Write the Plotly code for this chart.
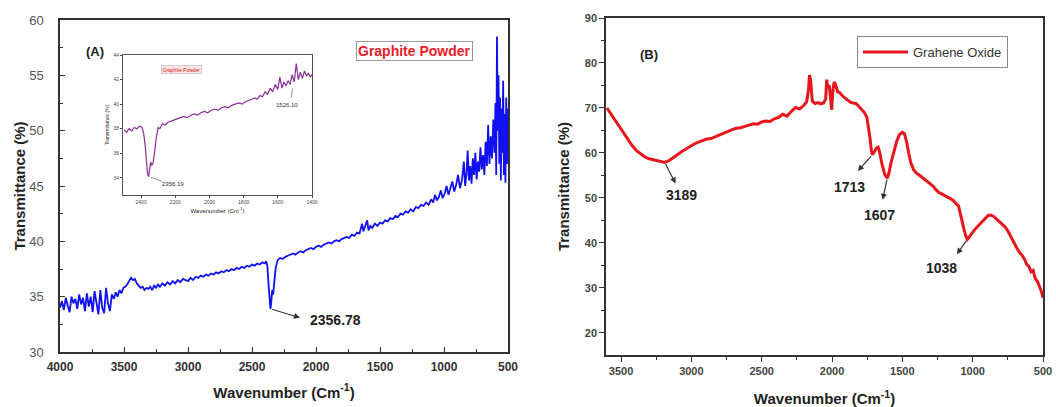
import plotly.graph_objects as go

# ---------------- Data ----------------
# (A) main: graphite powder
gp_wn = [4000, 3985, 3970, 3955, 3940, 3925, 3910, 3895, 3880, 3865, 3850, 3835, 3820, 3805, 3790, 3775,
         3760, 3745, 3730, 3715, 3700, 3685, 3670, 3655, 3640, 3625, 3610, 3595, 3580, 3565, 3550, 3535,
         3520, 3505, 3490, 3475, 3460, 3445, 3430, 3415, 3400, 3385, 3370, 3355, 3340, 3325, 3310, 3295,
         3280, 3265, 3250, 3235, 3220, 3200, 3180, 3160, 3140, 3120, 3100, 3080, 3060, 3040, 3020, 3000,
         2980, 2960, 2940, 2920, 2900, 2880, 2860, 2840, 2820, 2800, 2780, 2760, 2740, 2720, 2700, 2680,
         2660, 2640, 2620, 2600, 2580, 2560, 2540, 2520, 2500, 2480, 2460, 2440, 2420, 2400, 2390, 2380,
         2370, 2362, 2356, 2350, 2342, 2335, 2325, 2315, 2300, 2280, 2260, 2240, 2220, 2200, 2180, 2160,
         2140, 2120, 2100, 2080, 2060, 2040, 2020, 2000, 1980, 1960, 1940, 1920, 1900, 1880, 1860, 1840,
         1820, 1800, 1780, 1760, 1740, 1720, 1700, 1680, 1660, 1640, 1630, 1620, 1600, 1590, 1575, 1560,
         1540, 1520, 1500, 1480, 1460, 1440, 1420, 1400, 1380, 1360, 1340, 1320, 1300, 1280, 1260, 1240,
         1220, 1200, 1180, 1160, 1140, 1120, 1100, 1085, 1070, 1055, 1040, 1025, 1010, 995, 980, 965,
         950, 935, 920, 905, 890, 875, 860, 845, 835, 825, 815, 805, 795, 785, 775, 765,
         755, 745, 735, 725, 715, 705, 695, 685, 675, 665, 655, 645, 635, 625, 615, 605,
         598, 592, 586, 580, 574, 568, 562, 556, 550, 544, 538, 532, 526, 520, 514, 508,
         502, 500]
gp_t = [34.0, 34.6, 33.8, 34.9, 34.2, 33.6, 35.0, 34.4, 34.8, 33.9, 35.2, 34.3, 34.9, 33.7, 35.3, 34.1,
        35.0, 33.6, 35.5, 34.2, 33.4, 35.6, 34.0, 33.5, 35.8, 34.4, 33.7, 35.2, 34.8, 35.4, 35.0, 35.6,
        35.3, 35.8, 35.9, 36.1, 36.4, 36.7, 36.5, 36.6, 36.2, 36.0, 35.8, 35.9, 35.6, 35.8, 35.7, 35.9,
        35.6, 36.0, 35.8, 36.1, 35.9, 36.2, 36.0, 36.3, 36.1, 36.4, 36.2, 36.5, 36.3, 36.6, 36.5, 36.4,
        36.7, 36.5, 36.8, 36.7, 36.9, 36.8, 37.0, 36.9, 37.1, 37.0, 37.2, 37.1, 37.3, 37.2, 37.4, 37.3,
        37.5, 37.4, 37.6, 37.5, 37.7, 37.6, 37.8, 37.7, 37.9, 37.8, 38.0, 37.9, 38.1, 38.0, 38.2, 37.8,
        36.0, 34.5, 33.9, 34.4, 35.6, 35.2, 36.5, 37.6, 38.3, 38.5, 38.4, 38.6, 38.7, 38.8, 38.9, 38.8,
        39.0, 39.1, 39.0, 39.2, 39.3, 39.4, 39.3, 39.5, 39.6, 39.5, 39.7, 39.8, 39.9, 39.8, 40.0, 40.1,
        40.0, 40.2, 40.3, 40.4, 40.3, 40.6, 40.5, 40.8, 40.7, 41.6, 40.9, 41.3, 41.9, 41.0, 41.4, 41.2,
        41.6, 41.4, 41.7, 41.6, 41.9, 41.8, 42.1, 42.0, 42.3, 42.2, 42.5, 42.4, 42.7, 42.6, 42.9, 42.7,
        43.1, 43.0, 43.3, 43.2, 43.5, 43.3, 43.8, 43.5, 44.2, 43.7, 44.0, 44.6, 43.9, 44.3, 45.0, 44.2,
        44.7, 45.4, 44.5, 45.1, 46.0, 44.8, 45.5, 47.2, 45.0, 46.0, 48.2, 45.5, 46.8, 45.2, 47.5, 46.0,
        48.0, 45.6, 47.2, 46.3, 48.5, 46.5, 47.8, 46.0, 49.0, 46.8, 50.5, 47.0, 49.5, 47.5, 51.0, 48.0,
        52.5, 46.0, 58.5, 50.0, 55.0, 47.0, 53.0, 45.5, 52.0, 48.0, 54.5, 46.0, 51.5, 45.3, 53.0, 47.0,
        52.0, 49.5]

# (A) inset: graphite powder, 2500-1400 cm-1
in_wn = [2500, 2485, 2470, 2455, 2440, 2425, 2410, 2395, 2385, 2375, 2368, 2362, 2356, 2350, 2344, 2338,
         2330, 2322, 2312, 2300, 2290, 2275, 2260, 2245, 2230, 2210, 2190, 2170, 2150, 2130, 2110, 2090,
         2070, 2050, 2030, 2010, 1990, 1970, 1950, 1930, 1910, 1890, 1870, 1850, 1830, 1810, 1790, 1770,
         1750, 1735, 1720, 1705, 1690, 1675, 1660, 1645, 1630, 1615, 1600, 1588, 1576, 1564, 1552, 1540,
         1528, 1516, 1504, 1492, 1480, 1468, 1456, 1444, 1432, 1420, 1410, 1400]
in_t = [37.9, 37.7, 38.0, 37.8, 38.1, 38.0, 38.2, 38.1, 37.6, 36.5, 35.2, 34.3, 34.1, 34.6, 35.3, 35.0,
        35.2, 36.0, 37.2, 38.1, 38.0, 38.4, 38.3, 38.5, 38.6, 38.7, 38.8, 38.9, 39.0, 38.9, 39.1, 39.2,
        39.1, 39.3, 39.4, 39.3, 39.5, 39.6, 39.5, 39.7, 39.8, 39.7, 39.9, 40.0, 40.1, 40.0, 40.2, 40.3,
        40.4, 40.5, 40.4, 40.7, 40.6, 41.0, 40.8, 41.3, 41.0, 41.6, 41.2, 42.2, 41.3, 41.8, 41.5, 41.9,
        41.6, 42.4, 41.8, 43.3, 42.0, 42.6, 42.1, 42.7, 42.3, 42.5, 42.2, 42.4]

# (B) graphene oxide
go_wn = [3600, 3570, 3540, 3510, 3480, 3450, 3420, 3390, 3360, 3330, 3300, 3270, 3240, 3210, 3189, 3160,
         3130, 3100, 3070, 3040, 3010, 2980, 2950, 2920, 2890, 2860, 2830, 2800, 2770, 2740, 2710, 2680,
         2650, 2620, 2590, 2560, 2530, 2500, 2470, 2440, 2410, 2380, 2350, 2320, 2290, 2260, 2230, 2200,
         2180, 2168, 2160, 2152, 2140, 2120, 2100, 2080, 2060, 2045, 2038, 2030, 2020, 2010, 2002, 1995,
         1985, 1975, 1960, 1944, 1920, 1894, 1870, 1850, 1830, 1810, 1790, 1770, 1752, 1740, 1730, 1720,
         1713, 1700, 1685, 1672, 1660, 1645, 1625, 1607, 1595, 1580, 1560, 1540, 1520, 1500, 1485, 1470,
         1455, 1440, 1420, 1400, 1380, 1360, 1340, 1320, 1300, 1280, 1260, 1240, 1220, 1200, 1180, 1160,
         1140, 1120, 1100, 1090, 1075, 1060, 1048, 1038, 1025, 1010, 990, 970, 950, 930, 910, 890,
         870, 850, 830, 810, 790, 770, 750, 730, 710, 690, 670, 650, 630, 615, 600, 585,
         570, 555, 540, 525, 512, 500]
go_t = [70.0, 68.6, 67.3, 65.8, 64.4, 62.9, 61.6, 60.5, 59.7, 59.1, 58.7, 58.5, 58.2, 58.0, 57.9, 58.3,
        58.9, 59.6, 60.3, 60.9, 61.5, 62.0, 62.4, 62.8, 63.1, 63.2, 63.6, 64.0, 64.4, 64.9, 65.2, 65.5,
        65.6, 65.9, 66.2, 66.5, 66.4, 66.9, 67.1, 67.0, 67.6, 67.9, 68.6, 68.2, 69.2, 70.1, 69.8, 70.6,
        71.4, 74.0, 77.3, 76.0, 71.5, 71.0, 71.2, 70.9, 71.1, 72.0, 76.3, 74.5, 75.0, 72.0, 69.6, 73.5,
        75.8, 75.2, 73.6, 73.4, 72.5, 71.9, 71.3, 71.1, 71.0, 70.4, 69.8, 69.0, 67.9, 65.8, 63.3, 60.5,
        59.6, 60.2, 61.1, 61.3, 60.0, 57.5, 55.2, 54.4, 55.6, 57.9, 60.5, 62.6, 64.1, 64.6, 64.3, 62.5,
        60.0, 57.8, 56.3, 55.5, 55.1, 54.6, 54.0, 53.5, 53.2, 52.6, 51.8, 51.2, 50.9, 50.5, 50.2, 49.9,
        49.5, 48.8, 48.2, 46.8, 44.5, 42.8, 41.5, 40.8, 41.3, 42.0, 42.8, 43.5, 44.2, 44.9, 45.5, 46.1,
        46.2, 45.9, 45.3, 44.8, 44.2, 43.6, 42.7, 41.4, 40.3, 39.1, 38.0, 37.3, 36.3, 35.2, 34.8, 33.6,
        33.9, 32.1, 31.5, 30.4, 29.3, 27.8]

a_xticks = [4000, 3500, 3000, 2500, 2000, 1500, 1000, 500]
a_yticks = [30, 35, 40, 45, 50, 55, 60]
b_xticks = [3500, 3000, 2500, 2000, 1500, 1000, 500]
b_yticks = [20, 30, 40, 50, 60, 70, 80, 90]
in_xticks = [2400, 2200, 2000, 1800, 1600, 1400]
in_yticks = [34, 36, 38, 40, 42, 44]

W, H = 1056, 407
FONT = "Liberation Sans, Arial, sans-serif"
def px(x): return x / W
def py(y): return 1 - y / H

fig = go.Figure()
fig.add_trace(go.Scatter(x=gp_wn, y=gp_t, mode="lines", line=dict(color="#1010f0", width=1.8),
                         xaxis="x", yaxis="y", showlegend=False))
fig.add_trace(go.Scatter(x=in_wn, y=in_t, mode="lines", line=dict(color="#8a2f96", width=1.2),
                         xaxis="x3", yaxis="y3", showlegend=False))
fig.add_trace(go.Scatter(x=go_wn, y=go_t, mode="lines", line=dict(color="#e8161c", width=3),
                         xaxis="x2", yaxis="y2", name="Grahene Oxide", showlegend=True))

axis_common = dict(showline=True, linecolor="#333", linewidth=1.5, mirror=True, showgrid=False,
                   zeroline=False, ticklen=5, tickwidth=1.2, tickcolor="#333", automargin=False)

fig.update_layout(
    width=W, height=H, margin=dict(l=0, r=0, t=0, b=0, autoexpand=False),
    paper_bgcolor="white", plot_bgcolor="rgba(0,0,0,0)",
    font=dict(family=FONT, color="#222"),
    xaxis=dict(domain=[px(60), px(508)], range=[4000, 500], tickvals=a_xticks, ticks="inside",
               anchor="y", tickfont=dict(size=12, weight="bold", color="#333"), ticklabelstandoff=3,
               minor=dict(dtick=250, ticks="inside", ticklen=3, tickcolor="#333"),
               title=dict(text="<b>Wavenumber (Cm<sup>-1</sup>)</b>", font=dict(size=15), standoff=14),
               **axis_common),
    yaxis=dict(domain=[py(352), py(20)], range=[30, 60], tickvals=a_yticks, ticks="inside",
               anchor="x", tickfont=dict(size=13, color="#555"), ticklabelstandoff=12,
               minor=dict(dtick=2.5, ticks="inside", ticklen=3, tickcolor="#333"),
               title=dict(text="<b>Transmittance (%)</b>", font=dict(size=15), standoff=0),
               **axis_common),
    xaxis2=dict(domain=[px(606), px(1043)], range=[3607, 500], tickvals=b_xticks, ticks="outside",
                anchor="y2", tickfont=dict(size=11, weight="bold", color="#444"),
                minor=dict(dtick=250, ticks="outside", ticklen=3, tickcolor="#333"),
                title=dict(text="<b>Wavenumber (Cm<sup>-1</sup>)</b>", font=dict(size=15), standoff=20),
                **axis_common),
    yaxis2=dict(domain=[py(355), py(18)], range=[15.1, 90], tickvals=b_yticks, ticks="outside",
                anchor="x2", tickfont=dict(size=11, weight="bold", color="#444"),
                minor=dict(dtick=5, ticks="outside", ticklen=3, tickcolor="#333"),
                title=dict(text="<b>Transmittance (%)</b>", font=dict(size=15), standoff=12),
                **axis_common),
    xaxis3=dict(domain=[px(123), px(312)], range=[2506, 1400], tickvals=in_xticks, ticks="outside",
                anchor="y3", tickfont=dict(size=5, color="#444"), showline=True, linecolor="#555",
                linewidth=1, mirror=True, showgrid=False, zeroline=False, ticklen=2, automargin=False,
                title=dict(text="Wavenumber (Cm<sup>-1</sup>)", font=dict(size=6), standoff=4)),
    yaxis3=dict(domain=[py(195), py(55)], range=[32.6, 44], tickvals=in_yticks, ticks="outside",
                anchor="x3", tickfont=dict(size=5, color="#444"), showline=True, linecolor="#555",
                linewidth=1, mirror=True, showgrid=False, zeroline=False, ticklen=2, automargin=False,
                title=dict(text="Transmittance (%)", font=dict(size=5), standoff=3)),
    legend=dict(x=px(857), y=py(36), xanchor="left", yanchor="top", bordercolor="#888",
                borderwidth=1, bgcolor="white", font=dict(size=13, color="#333"),
                itemwidth=45, tracegroupgap=0),
)

ann = []
# panel labels
ann.append(dict(xref="paper", yref="paper", x=px(84), y=py(42), text="<b>(A)</b>", showarrow=False,
                xanchor="left", font=dict(size=13, color="#222")))
ann.append(dict(xref="paper", yref="paper", x=px(638), y=py(45), text="<b>(B)</b>", showarrow=False,
                xanchor="left", font=dict(size=13, color="#222")))
# Graphite Powder label box
ann.append(dict(xref="paper", yref="paper", x=px(414), y=py(41), text="<b>Graphite Powder</b>",
                showarrow=False, font=dict(size=14, color="#e8202a"), bordercolor="#999",
                borderwidth=1, borderpad=1, bgcolor="white"))
# inset label
ann.append(dict(xref="paper", yref="paper", x=px(161), y=py(65), text="Graphite Powder",
                showarrow=False, font=dict(size=5, color="#d02020"), bordercolor="#aaa",
                borderwidth=0.5, borderpad=1, bgcolor="#fde4e4"))

def arrow_label(xa, ya, tail, head, txt, pos, size=14, hs=2, aw=1.2):
    # arrow from curve point (tail) toward text (head), and the text itself
    ann.append(dict(xref=xa, yref=ya, axref=xa, ayref=ya, x=head[0], y=head[1], ax=tail[0], ay=tail[1],
                    text="", showarrow=True, arrowhead=hs, arrowsize=1, arrowwidth=aw, arrowcolor="#333"))
    ann.append(dict(xref=xa, yref=ya, x=pos[0], y=pos[1], text="<b>%s</b>" % txt, showarrow=False,
                    font=dict(size=size, color="#222")))

arrow_label("x", "y", (2356, 33.9), (2125, 33.1), "2356.78", (1845, 32.9))
arrow_label("x2", "y2", (3189, 57.9), (3112, 53.2), "3189", (3067, 50.7))
arrow_label("x2", "y2", (1713, 59.6), (1816, 56.0), "1713", (1873, 52.4))
arrow_label("x2", "y2", (1607, 54.4), (1640, 49.6), "1607", (1660, 46.2))
arrow_label("x2", "y2", (1038, 40.8), (1112, 37.5), "1038", (1219, 34.4))
# inset annotations
ann.append(dict(xref="x3", yref="y3", axref="x3", ayref="y3", x=2276, y=33.7, ax=2353, ay=34.1,
                text="", showarrow=True, arrowhead=0, arrowwidth=0.6, arrowcolor="#444"))
ann.append(dict(xref="x3", yref="y3", x=2215, y=33.5, text="2356.19", showarrow=False,
                font=dict(size=6, color="#333")))
ann.append(dict(xref="x3", yref="y3", axref="x3", ayref="y3", x=1522, y=40.5, ax=1512, ay=41.4,
                text="", showarrow=True, arrowhead=0, arrowwidth=0.6, arrowcolor="#444"))
ann.append(dict(xref="x3", yref="y3", x=1545, y=39.9, text="1526.10", showarrow=False,
                font=dict(size=6, color="#333")))

fig.update_layout(annotations=ann)
fig.write_html("out.html", config={"displayModeBar": False},
               post_script="document.body.style.margin='0px';")
